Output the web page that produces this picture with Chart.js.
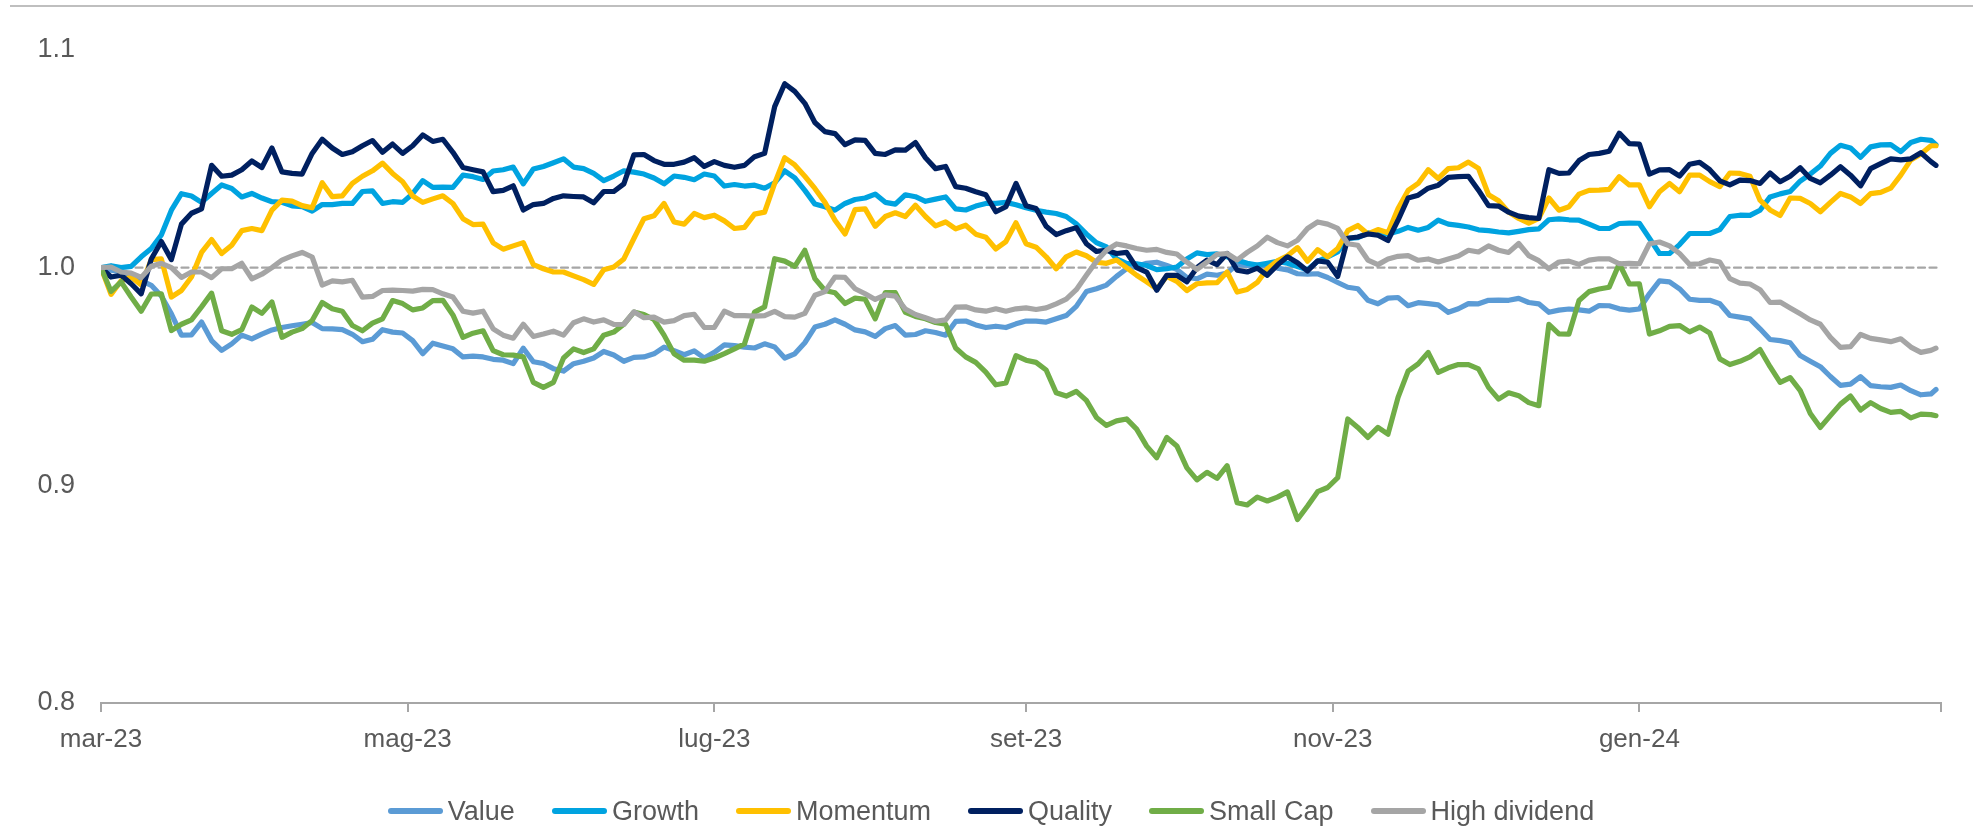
<!DOCTYPE html>
<html>
<head>
<meta charset="utf-8">
<title>Fattori</title>
<script src="https://cdn.jsdelivr.net/npm/chart.js@4.4.1/dist/chart.umd.min.js"></script>
<style>
    html, body { margin: 0; padding: 0; background: #ffffff; }
    #wrap { position: relative; width: 1973px; height: 827px; }
    #legend {
        position: absolute; left: 9px; right: 0; top: 795px;
        display: flex; justify-content: center;
        font: 27px "Liberation Sans", Arial, sans-serif; color: #595959;
        line-height: 32px;
    }
    #legend .item { display: flex; align-items: center; margin: 0 18.5px; }
    #legend .swatch { width: 55px; height: 6px; border-radius: 3px; margin-right: 5px; }
</style>
</head>
<body>
<div id="wrap">
    <canvas id="factorChart" width="1973" height="827"></canvas>
    <div id="legend"></div>
</div>
<script>
// giorni dal 1 marzo 2023
const days = [
    0, 2, 4, 6, 8, 10, 12, 14, 16, 18, 20, 22, 24, 26, 28, 30,
    32, 34, 36, 38, 40, 42, 44, 46, 48, 50, 52, 54, 56, 58, 60, 62,
    64, 66, 68, 70, 72, 74, 76, 78, 80, 82, 84, 86, 88, 90, 92, 94,
    96, 98, 100, 102, 104, 106, 108, 110, 112, 114, 116, 118, 120, 122, 124, 126,
    128, 130, 132, 134, 136, 138, 140, 142, 144, 146, 148, 150, 152, 154, 156, 158,
    160, 162, 164, 166, 168, 170, 172, 174, 176, 178, 180, 182, 184, 186, 188, 190,
    192, 194, 196, 198, 200, 202, 204, 206, 208, 210, 212, 214, 216, 218, 220, 222,
    224, 226, 228, 230, 232, 234, 236, 238, 240, 242, 244, 246, 248, 250, 252, 254,
    256, 258, 260, 262, 264, 266, 268, 270, 272, 274, 276, 278, 280, 282, 284, 286,
    288, 290, 292, 294, 296, 298, 300, 302, 304, 306, 308, 310, 312, 314, 316, 318,
    320, 322, 324, 326, 328, 330, 332, 334, 336, 338, 340, 342, 344, 346, 348, 350,
    352, 354, 356, 358, 360, 362, 364, 365
];

const value = [
    1.000, 0.9988, 0.998, 0.9957, 0.994, 0.9919, 0.987, 0.9788,
    0.969, 0.9691, 0.975, 0.9665, 0.962, 0.965, 0.969, 0.9673,
    0.9695, 0.9714, 0.9725, 0.9733, 0.974, 0.9748, 0.972, 0.9719,
    0.9715, 0.9694, 0.966, 0.9671, 0.9715, 0.9704, 0.970, 0.9665,
    0.9605, 0.9653, 0.964, 0.9627, 0.959, 0.9594, 0.959, 0.9579,
    0.9575, 0.9559, 0.963, 0.9568, 0.956, 0.9536, 0.9525, 0.9559,
    0.957, 0.9585, 0.9615, 0.9599, 0.957, 0.9588, 0.959, 0.9604,
    0.9635, 0.9619, 0.960, 0.9618, 0.9585, 0.9611, 0.9645, 0.9642,
    0.9635, 0.9631, 0.965, 0.9636, 0.9585, 0.9604, 0.9655, 0.9727,
    0.974, 0.976, 0.974, 0.9714, 0.9705, 0.9684, 0.972, 0.9734,
    0.969, 0.9693, 0.971, 0.9702, 0.969, 0.9753, 0.9755, 0.9737,
    0.9725, 0.9731, 0.9725, 0.9742, 0.9755, 0.9754, 0.975, 0.9765,
    0.978, 0.9822, 0.989, 0.9903, 0.992, 0.996, 0.9995, 1.0005,
    1.002, 1.0025, 1.001, 0.9992, 0.9955, 0.9949, 0.997, 0.9965,
    0.9975, 1.0015, 1.001, 1.0012, 1.001, 0.9998, 0.999, 0.9972,
    0.997, 0.9972, 0.9955, 0.9932, 0.991, 0.9903, 0.985, 0.9834,
    0.986, 0.9863, 0.9825, 0.9839, 0.9835, 0.9829, 0.9795, 0.9811,
    0.9835, 0.9834, 0.985, 0.9851, 0.985, 0.9859, 0.984, 0.9834,
    0.9795, 0.9805, 0.981, 0.9806, 0.980, 0.9826, 0.9825, 0.9811,
    0.9805, 0.981, 0.988, 0.9939, 0.9935, 0.9903, 0.9855, 0.985,
    0.985, 0.9834, 0.978, 0.9773, 0.9765, 0.9719, 0.967, 0.9665,
    0.9655, 0.9596, 0.957, 0.9545, 0.950, 0.9459, 0.9465, 0.9499,
    0.9458, 0.9453, 0.945, 0.9461, 0.9435, 0.9416, 0.942, 0.944
];
const growth = [
    1.000, 1.0009, 1.000, 1.0006, 1.005, 1.0088, 1.015, 1.0264,
    1.034, 1.0329, 1.030, 1.0341, 1.038, 1.0364, 1.0325, 1.0341,
    1.032, 1.0303, 1.030, 1.0284, 1.028, 1.026, 1.029, 1.029,
    1.0295, 1.0295, 1.035, 1.0353, 1.0295, 1.0303, 1.030, 1.034,
    1.040, 1.0369, 1.037, 1.0369, 1.0425, 1.0418, 1.0405, 1.0444,
    1.045, 1.0462, 1.0385, 1.0453, 1.0465, 1.0482, 1.050, 1.0462,
    1.0455, 1.0433, 1.040, 1.0421, 1.0445, 1.0439, 1.043, 1.0412,
    1.0385, 1.0421, 1.0415, 1.0404, 1.043, 1.0421, 1.0375, 1.0382,
    1.0375, 1.0379, 1.0365, 1.039, 1.0445, 1.0413, 1.0355, 1.0292,
    1.028, 1.0264, 1.0295, 1.0313, 1.032, 1.0338, 1.030, 1.0292,
    1.0335, 1.0326, 1.0305, 1.0315, 1.0325, 1.027, 1.0265, 1.0283,
    1.0295, 1.0295, 1.030, 1.0289, 1.0275, 1.0264, 1.0255, 1.0249,
    1.0235, 1.0201, 1.0155, 1.0115, 1.0095, 1.0041, 1.002, 1.0018,
    1.001, 0.9991, 0.9995, 1.0003, 1.004, 1.0068, 1.006, 1.0063,
    1.005, 1.0034, 1.002, 1.0012, 1.002, 1.0029, 1.002, 1.0005,
    0.999, 1.0029, 1.005, 1.0072, 1.0135, 1.0138, 1.016, 1.0151,
    1.0155, 1.0167, 1.0185, 1.0172, 1.0185, 1.0218, 1.020, 1.0194,
    1.0187, 1.0174, 1.017, 1.0164, 1.016, 1.0167, 1.0175, 1.0178,
    1.022, 1.0224, 1.022, 1.0218, 1.020, 1.018, 1.018, 1.0203,
    1.0205, 1.0204, 1.0135, 1.0065, 1.0065, 1.0106, 1.0157, 1.0157,
    1.0157, 1.0175, 1.0235, 1.0241, 1.024, 1.0264, 1.0325, 1.0339,
    1.035, 1.0398, 1.043, 1.0467, 1.0525, 1.0562, 1.055, 1.0507,
    1.0555, 1.0564, 1.0565, 1.0533, 1.0575, 1.059, 1.0585, 1.0565
];
const momentum = [
    1.000, 0.9877, 0.994, 0.9957, 0.992, 1.0037, 1.004, 0.9865,
    0.9895, 0.9957, 1.007, 1.0129, 1.0065, 1.0103, 1.017, 1.018,
    1.017, 1.0264, 1.031, 1.0306, 1.0285, 1.0275, 1.039, 1.0326,
    1.033, 1.0387, 1.042, 1.0445, 1.048, 1.0433, 1.0395, 1.0329,
    1.030, 1.0316, 1.033, 1.0295, 1.0225, 1.0198, 1.020, 1.0114,
    1.0085, 1.010, 1.0115, 1.0014, 0.9995, 0.998, 0.998, 0.9962,
    0.9945, 0.9923, 0.999, 1.0003, 1.004, 1.0134, 1.0225, 1.0238,
    1.0295, 1.021, 1.020, 1.0249, 1.023, 1.0241, 1.0215, 1.018,
    1.0185, 1.0246, 1.0255, 1.0387, 1.0505, 1.0472, 1.042, 1.0364,
    1.030, 1.0218, 1.0155, 1.0267, 1.027, 1.019, 1.0235, 1.0252,
    1.0235, 1.0287, 1.0235, 1.0192, 1.021, 1.0178, 1.0195, 1.0154,
    1.014, 1.0086, 1.012, 1.0206, 1.011, 1.0094, 1.005, 0.9995,
    1.005, 1.0072, 1.0055, 1.0025, 1.002, 1.0035, 1.000, 0.9965,
    0.9935, 0.9903, 0.996, 0.9937, 0.9895, 0.9926, 0.993, 0.9931,
    0.998, 0.9888, 0.990, 0.9932, 0.9995, 1.0031, 1.0055, 1.0092,
    1.003, 1.0083, 1.005, 1.0088, 1.017, 1.0194, 1.0155, 1.0175,
    1.016, 1.0272, 1.0355, 1.0387, 1.045, 1.041, 1.0455, 1.0459,
    1.0485, 1.0456, 1.0335, 1.0307, 1.0255, 1.0226, 1.0205, 1.0226,
    1.032, 1.0264, 1.028, 1.0338, 1.0355, 1.0356, 1.036, 1.0418,
    1.038, 1.038, 1.028, 1.0349, 1.0387, 1.0349, 1.0425, 1.0425,
    1.0395, 1.0372, 1.0435, 1.0433, 1.042, 1.031, 1.0265, 1.024,
    1.032, 1.0318, 1.0295, 1.0257, 1.030, 1.0341, 1.0325, 1.0295,
    1.034, 1.0346, 1.0365, 1.0425, 1.0495, 1.0522, 1.056, 1.056
];
const quality = [
    1.000, 0.9957, 0.9965, 0.9926, 0.988, 1.004, 1.012, 1.0037,
    1.020, 1.025, 1.027, 1.047, 1.042, 1.0425, 1.045, 1.049,
    1.046, 1.055, 1.044, 1.0433, 1.043, 1.0525, 1.059, 1.055,
    1.052, 1.0533, 1.056, 1.0584, 1.053, 1.0568, 1.0525, 1.056,
    1.061, 1.058, 1.059, 1.053, 1.046, 1.045, 1.044, 1.0349,
    1.0355, 1.0376, 1.0265, 1.029, 1.0295, 1.0318, 1.033, 1.0327,
    1.0325, 1.0298, 1.035, 1.035, 1.0385, 1.0518, 1.052, 1.0492,
    1.0475, 1.0475, 1.0485, 1.0505, 1.0465, 1.0487, 1.047, 1.0461,
    1.047, 1.051, 1.0525, 1.074, 1.0845, 1.081, 1.0755, 1.0667,
    1.0625, 1.0616, 1.0565, 1.0587, 1.0585, 1.0525, 1.052, 1.0541,
    1.054, 1.0575, 1.0505, 1.0455, 1.0465, 1.0372, 1.0365, 1.0349,
    1.0335, 1.0257, 1.028, 1.0387, 1.0285, 1.0272, 1.019, 1.0152,
    1.017, 1.0184, 1.011, 1.0075, 1.008, 1.0065, 1.007, 1.000,
    0.998, 0.9896, 0.9965, 0.9965, 0.9935, 1.000, 1.0035, 1.0014,
    1.0065, 0.9988, 0.998, 0.9998, 0.9965, 1.0012, 1.005, 1.0023,
    0.9985, 1.0031, 1.0025, 0.996, 1.0135, 1.0141, 1.0155, 1.0149,
    1.0125, 1.0218, 1.032, 1.0333, 1.0365, 1.0379, 1.0415, 1.0418,
    1.042, 1.0356, 1.0285, 1.0283, 1.0255, 1.0237, 1.023, 1.0226,
    1.045, 1.0433, 1.0435, 1.0492, 1.052, 1.0525, 1.0535, 1.0618,
    1.057, 1.0568, 1.043, 1.0449, 1.045, 1.0421, 1.0475, 1.0484,
    1.045, 1.0399, 1.038, 1.0402, 1.040, 1.0387, 1.0435, 1.0395,
    1.042, 1.0459, 1.041, 1.039, 1.0425, 1.0464, 1.0425, 1.0376,
    1.0455, 1.0478, 1.050, 1.0495, 1.050, 1.0528, 1.0487, 1.047
];
const smallCap = [
    1.000, 0.9891, 0.9935, 0.9865, 0.980, 0.9879, 0.988, 0.9711,
    0.974, 0.976, 0.982, 0.9883, 0.971, 0.9694, 0.9715, 0.9819,
    0.979, 0.9842, 0.968, 0.9704, 0.972, 0.9757, 0.984, 0.9811,
    0.980, 0.9734, 0.971, 0.9745, 0.9765, 0.9849, 0.9835, 0.9806,
    0.9815, 0.9849, 0.985, 0.9783, 0.968, 0.9699, 0.971, 0.9619,
    0.960, 0.9598, 0.959, 0.9473, 0.945, 0.9473, 0.9585, 0.9627,
    0.961, 0.9627, 0.969, 0.9704, 0.974, 0.9796, 0.9785, 0.9762,
    0.969, 0.9604, 0.9575, 0.9575, 0.957, 0.9585, 0.9605, 0.9627,
    0.965, 0.9796, 0.982, 1.0041, 1.003, 1.0006, 1.008, 0.995,
    0.9895, 0.9885, 0.9835, 0.986, 0.9855, 0.9765, 0.9885, 0.9885,
    0.9795, 0.9776, 0.9765, 0.9748, 0.974, 0.9631, 0.959, 0.9565,
    0.952, 0.9462, 0.947, 0.9596, 0.9575, 0.9565, 0.953, 0.9425,
    0.941, 0.9432, 0.939, 0.9312, 0.9275, 0.9296, 0.9305, 0.9258,
    0.918, 0.9127, 0.922, 0.9181, 0.908, 0.9025, 0.906, 0.9032,
    0.909, 0.892, 0.891, 0.8946, 0.8928, 0.8946, 0.897, 0.8843,
    0.8905, 0.8971, 0.899, 0.9035, 0.9305, 0.9266, 0.922, 0.9266,
    0.9235, 0.9404, 0.9525, 0.9558, 0.961, 0.9519, 0.954, 0.9555,
    0.9555, 0.9535, 0.945, 0.9396, 0.9425, 0.9412, 0.938, 0.9366,
    0.974, 0.9696, 0.9695, 0.9849, 0.989, 0.9902, 0.991, 1.0018,
    0.9925, 0.9926, 0.9695, 0.971, 0.973, 0.9734, 0.9705, 0.9727,
    0.970, 0.9581, 0.9555, 0.957, 0.959, 0.9624, 0.9545, 0.9473,
    0.9495, 0.9435, 0.933, 0.9266, 0.932, 0.9373, 0.941, 0.9346,
    0.938, 0.9353, 0.9335, 0.934, 0.931, 0.9327, 0.9325, 0.932
];
const highDividend = [
    1.000, 1.0003, 0.998, 0.9975, 0.9955, 1.0006, 1.002, 1.000,
    0.9955, 0.998, 0.998, 0.9954, 0.9995, 0.9995, 1.002, 0.9949,
    0.997, 1.000, 1.0035, 1.0054, 1.007, 1.0049, 0.992, 0.9939,
    0.9935, 0.9942, 0.9865, 0.9868, 0.9895, 0.9897, 0.9895, 0.9892,
    0.990, 0.9899, 0.988, 0.9865, 0.980, 0.9791, 0.980, 0.9719,
    0.969, 0.9676, 0.974, 0.9684, 0.9695, 0.9708, 0.969, 0.9747,
    0.9765, 0.975, 0.976, 0.9739, 0.974, 0.9797, 0.977, 0.9773,
    0.975, 0.9757, 0.978, 0.9786, 0.9725, 0.9726, 0.980, 0.978,
    0.978, 0.9777, 0.978, 0.9799, 0.9775, 0.9773, 0.979, 0.9873,
    0.989, 0.9957, 0.9955, 0.9903, 0.988, 0.9854, 0.9875, 0.9869,
    0.981, 0.9785, 0.977, 0.9754, 0.976, 0.9819, 0.982, 0.9806,
    0.980, 0.9811, 0.980, 0.9811, 0.9815, 0.9808, 0.9815, 0.9834,
    0.9855, 0.9899, 0.9965, 1.0029, 1.008, 1.0109, 1.010, 1.0088,
    1.008, 1.0084, 1.007, 1.0063, 1.0025, 0.9992, 1.0025, 1.0061,
    1.0065, 1.0035, 1.007, 1.010, 1.014, 1.0115, 1.010, 1.0126,
    1.018, 1.021, 1.020, 1.018, 1.011, 1.0103, 1.0035, 1.0014,
    1.004, 1.0052, 1.0055, 1.0034, 1.004, 1.0026, 1.004, 1.0054,
    1.008, 1.0072, 1.010, 1.008, 1.007, 1.0111, 1.0055, 1.0032,
    0.9995, 1.0026, 1.003, 1.0015, 1.0035, 1.0041, 1.004, 1.0018,
    1.002, 1.0018, 1.011, 1.0118, 1.010, 1.0065, 1.0015, 1.0018,
    1.0035, 1.0026, 0.995, 0.9929, 0.9925, 0.9899, 0.984, 0.9842,
    0.9815, 0.9788, 0.976, 0.974, 0.968, 0.9634, 0.9637, 0.9693,
    0.9675, 0.9668, 0.966, 0.9673, 0.9635, 0.9611, 0.962, 0.963
];

// etichette asse x (una ogni due mesi) e asse y
const tickDays = [0, 61, 122, 184, 245, 306, 366];
const tickLabels = ['mar-23', 'mag-23', 'lug-23', 'set-23', 'nov-23', 'gen-24', ''];
const yTicks = [0.8, 0.9, 1.0, 1.1];
const baseline = 1.0;

const seriesNames = ['Value', 'Growth', 'Momentum', 'Quality', 'Small Cap', 'High dividend'];
const seriesData = [value, growth, momentum, quality, smallCap, highDividend];
const seriesColors = ['#5B9BD5', '#00A3E0', '#FFC000', '#002060', '#70AD47', '#A5A5A5'];

const textColor = '#595959';
const axisColor = '#A6A6A6';
const fontFamily = '"Liberation Sans", Arial, sans-serif';

const toPoints = arr => arr.map((v, i) => ({ x: days[i], y: v }));

const datasets = seriesNames.map((name, i) => ({
    label: name,
    data: toPoints(seriesData[i]),
    borderColor: seriesColors[i],
    backgroundColor: seriesColors[i],
    borderWidth: 5.2,
    order: seriesNames.length - i   // l'ultima serie sta sopra
}));

// linea tratteggiata a quota 1
datasets.push({
    label: 'base',
    data: [{ x: tickDays[0], y: baseline }, { x: tickDays[tickDays.length - 1], y: baseline }],
    borderColor: axisColor,
    borderWidth: 2.2,
    borderDash: [7, 4.5],
    order: 99
});

const topRule = {
    id: 'topRule',
    beforeDraw(chart) {
        const ctx = chart.ctx;
        ctx.save();
        ctx.strokeStyle = '#BFBFBF';
        ctx.lineWidth = 2;
        ctx.beginPath();
        ctx.moveTo(10, 6);
        ctx.lineTo(1973, 6);
        ctx.stroke();
        ctx.restore();
    }
};

new Chart(document.getElementById('factorChart'), {
    type: 'line',
    data: { datasets: datasets },
    plugins: [topRule],
    options: {
        responsive: false,
        animation: false,
        layout: { padding: { top: 50, right: 32, bottom: 0, left: 0 } },
        elements: {
            point: { radius: 0 },
            line: { tension: 0, borderJoinStyle: 'round', borderCapStyle: 'round', fill: false }
        },
        plugins: {
            legend: { display: false },
            tooltip: { enabled: false }
        },
        scales: {
            x: {
                type: 'linear',
                min: tickDays[0],
                max: tickDays[tickDays.length - 1],
                afterBuildTicks: scale => { scale.ticks = tickDays.map(v => ({ value: v })); },
                afterFit: scale => { scale.height = 124; },
                ticks: {
                    autoSkip: false,
                    maxRotation: 0,
                    padding: 12,
                    color: textColor,
                    font: { family: fontFamily, size: 26 },
                    callback: v => tickLabels[tickDays.indexOf(v)]
                },
                grid: { drawOnChartArea: false, drawTicks: true, tickLength: 9, color: axisColor, lineWidth: 2 },
                border: { display: true, color: axisColor, width: 2 }
            },
            y: {
                min: yTicks[0],
                max: yTicks[yTicks.length - 1],
                afterBuildTicks: scale => { scale.ticks = yTicks.map(v => ({ value: v })); },
                afterFit: scale => { scale.width = 101; },
                ticks: {
                    padding: 18,
                    color: textColor,
                    font: { family: fontFamily, size: 27 },
                    callback: v => v.toFixed(1)
                },
                grid: { display: false },
                border: { display: false }
            }
        }
    }
});

// legenda in html sotto il grafico
const legend = document.getElementById('legend');
seriesNames.forEach((name, i) => {
    const item = document.createElement('div');
    item.className = 'item';
    const sw = document.createElement('span');
    sw.className = 'swatch';
    sw.style.background = seriesColors[i];
    const txt = document.createElement('span');
    txt.textContent = name;
    item.appendChild(sw);
    item.appendChild(txt);
    legend.appendChild(item);
});
</script>
</body>
</html>
